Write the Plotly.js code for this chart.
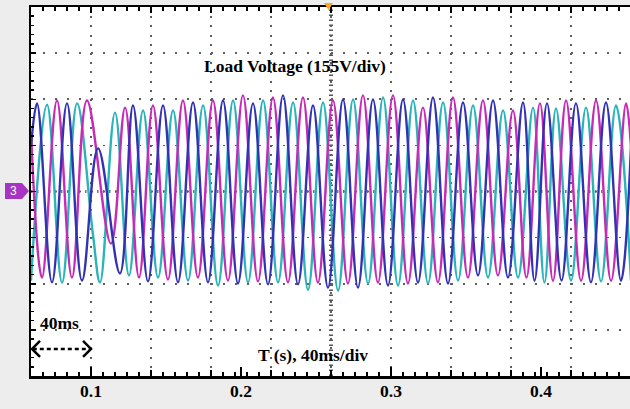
<!DOCTYPE html>
<html>
<head>
<meta charset="utf-8">
<script src="https://cdn.plot.ly/plotly-3.0.1.min.js"></script>
<style>
  html, body { margin: 0; padding: 0; background: #ededed; }
  #chart { width: 630px; height: 409px; }
</style>
</head>
<body>
<div id="chart"></div>
<script>
// Three-phase load voltage, sampled at the peaks and troughs of each phase
// (time in seconds, voltage in volts). 155 V per vertical division.

// Phase A (blue)
const timeA = [0.0600,0.0640,0.0740,0.0840,0.0940,0.1047,0.1193,0.1280,0.1380,0.1480,
               0.1580,0.1680,0.1780,0.1880,0.1980,0.2080,0.2180,0.2280,0.2380,0.2480,
               0.2580,0.2680,0.2780,0.2880,0.2980,0.3080,0.3180,0.3280,0.3380,0.3480,
               0.3580,0.3680,0.3780,0.3880,0.3957,0.4040,0.4137,0.4233,0.4333,0.4433,
               0.4533,0.4600];
const voltA = [150,296,-305,296,-299,145,-275,289,-302,289,
               -305,299,-305,306,-309,296,-312,323,-312,289,
               -323,309,-323,309,-316,309,-306,316,-309,299,
               -282,306,-289,299,-300,296,-299,296,-305,299,
               -300,150];

// Phase B (cyan)
const timeB = [0.0600,0.0707,0.0807,0.0907,0.1013,0.1060,0.1160,0.1253,0.1347,0.1447,
               0.1547,0.1647,0.1747,0.1847,0.1947,0.2047,0.2147,0.2247,0.2347,0.2447,
               0.2547,0.2647,0.2747,0.2847,0.2947,0.3047,0.3147,0.3247,0.3347,0.3447,
               0.3547,0.3647,0.3747,0.3847,0.3947,0.4023,0.4100,0.4200,0.4300,0.4400,
               0.4500,0.4600];
const voltB = [-300,292,-306,296,-145,-306,265,-282,272,-289,
               272,-299,289,-316,306,-305,306,-305,299,-330,
               299,-333,309,-309,316,-316,306,-309,299,-299,
               289,-289,272,-289,282,-306,279,-299,282,-302,
               289,-300];

// Phase C (magenta)
const timeC = [0.0600,0.0673,0.0773,0.0873,0.0973,0.1133,0.1227,0.1320,0.1413,0.1513,
               0.1613,0.1713,0.1813,0.1913,0.2013,0.2113,0.2213,0.2313,0.2413,0.2513,
               0.2613,0.2713,0.2813,0.2913,0.3013,0.3113,0.3213,0.3313,0.3413,0.3513,
               0.3613,0.3713,0.3813,0.3903,0.3993,0.4080,0.4167,0.4267,0.4367,0.4467,
               0.4567,0.4600];
const voltC = [200,-289,306,-289,306,-175,282,-289,289,-296,
               306,-289,306,-299,323,-302,316,-305,316,-306,
               306,-309,323,-306,323,-309,282,-305,316,-289,
               306,-282,272,-289,296,-300,306,-300,306,-300,
               296,150];

// Time-axis labels
const tickVals = [0.1, 0.2, 0.3, 0.4];
const tickText = ['0.1', '0.2', '0.3', '0.4'];

const serifBold = { family: 'Liberation Serif, Times New Roman, serif', size: 17.5, weight: 'bold', color: '#000' };
const xRange = [0.06, 0.459333];

function phase(t, v, color, xaxis) {
  return {
    x: t, y: v, type: 'scatter', mode: 'lines', xaxis: xaxis, yaxis: 'y',
    line: { color: color, width: 2.4, shape: 'spline', smoothing: 1.1 },
    hoverinfo: 'skip', showlegend: false
  };
}

// Phase A sits on the labelled time axis, which overlays the gridded one.
const traces = [
  phase(timeB, voltB, '#2ab3b8', 'x'),
  phase(timeC, voltC, '#c52bb5', 'x'),
  phase(timeA, voltA, '#3232b2', 'x2')
];

const layout = {
  width: 630, height: 409,
  margin: { l: 31, r: 0, t: 7, b: 33, pad: 0 },
  paper_bgcolor: '#ededed',
  plot_bgcolor: '#ffffff',
  showlegend: false,
  xaxis: {
    range: xRange,
    tick0: 0.06, dtick: 0.04,
    showgrid: true, gridcolor: '#5e5e5e', gridwidth: 1.6, griddash: '2px,7.2px',
    zeroline: false,
    showticklabels: false,
    ticks: 'inside', ticklen: 6, tickwidth: 1.5, tickcolor: '#000',
    minor: { tick0: 0.06, dtick: 0.008, ticks: 'inside', ticklen: 4, tickwidth: 1.5, tickcolor: '#000', showgrid: false },
    showline: true, linecolor: '#000', linewidth: 2.5, mirror: 'allticks',
    fixedrange: true
  },
  xaxis2: {
    overlaying: 'x', anchor: 'y', side: 'bottom',
    range: xRange,
    tickmode: 'array', tickvals: tickVals, ticktext: tickText,
    ticks: 'inside', ticklen: 9, tickwidth: 2.5, tickcolor: '#000',
    tickfont: serifBold, ticklabelstandoff: 2,
    showgrid: false, zeroline: false, showline: false,
    fixedrange: true
  },
  yaxis: {
    range: [-620, 620],
    tick0: 0, dtick: 155,
    showgrid: true, gridcolor: '#5e5e5e', gridwidth: 1.6, griddash: '2px,10px',
    zeroline: false,
    showticklabels: false,
    ticks: 'inside', ticklen: 5, tickwidth: 1.5, tickcolor: '#000',
    minor: { dtick: 31, ticks: 'inside', ticklen: 3, tickwidth: 1.5, tickcolor: '#000', showgrid: false },
    showline: true, linecolor: '#000', linewidth: 2.5, mirror: false,
    fixedrange: true
  },
  shapes: [
    // centre crosshair with fine graduations
    { type: 'line', xref: 'x', yref: 'paper', x0: 0.26, x1: 0.26, y0: 0, y1: 1,
      line: { color: '#555', width: 4, dash: '1.5px,3.5px' }, layer: 'between' },
    { type: 'line', xref: 'paper', yref: 'y', x0: 0, x1: 1, y0: 0, y1: 0,
      line: { color: '#777', width: 3, dash: '1.5px,4.5px' }, layer: 'between' },
    // 40 ms span marker
    { type: 'line', xref: 'x', yref: 'y', x0: 0.0612, x1: 0.0995, y0: -529, y1: -529,
      line: { color: '#000', width: 2.5, dash: '4px,3px' } },
    { type: 'path', xref: 'x', yref: 'y', path: 'M0.0660,-502 L0.0607,-529 L0.0660,-556',
      line: { color: '#000', width: 2.5 } },
    { type: 'path', xref: 'x', yref: 'y', path: 'M0.0947,-502 L0.1000,-529 L0.0947,-556',
      line: { color: '#000', width: 2.5 } },
    // trigger position marker
    { type: 'path', xref: 'paper', yref: 'paper', path: 'M0.4891,1.0108 L0.5042,1.0108 L0.4967,0.9919 Z',
      fillcolor: '#f5a623', line: { width: 0 } },
    // channel 3 ground marker
    { type: 'path', xref: 'paper', yref: 'paper',
      path: 'M-0.0434,0.5230 L-0.0150,0.5230 L-0.0033,0.5014 L-0.0150,0.4797 L-0.0434,0.4797 Z',
      fillcolor: '#a834c4', line: { width: 0 } }
  ],
  annotations: [
    { text: 'Load Voltage (155V/div)', xref: 'paper', yref: 'paper', x: 0.440, y: 0.840,
      xanchor: 'center', yanchor: 'middle', showarrow: false, font: serifBold },
    { text: '40ms', xref: 'paper', yref: 'paper', x: 0.0484, y: 0.1436,
      xanchor: 'center', yanchor: 'middle', showarrow: false, font: serifBold },
    { text: 'T (s), 40ms/div', xref: 'paper', yref: 'paper', x: 0.4708, y: 0.0569,
      xanchor: 'center', yanchor: 'middle', showarrow: false, font: serifBold },
    { text: '3', xref: 'paper', yref: 'paper', x: -0.0295, y: 0.5014,
      xanchor: 'center', yanchor: 'middle', showarrow: false,
      font: { family: 'Liberation Sans, Arial, sans-serif', size: 12, color: '#ffffff' } }
  ]
};

Plotly.newPlot('chart', traces, layout, { staticPlot: true, displayModeBar: false });
</script>
</body>
</html>
